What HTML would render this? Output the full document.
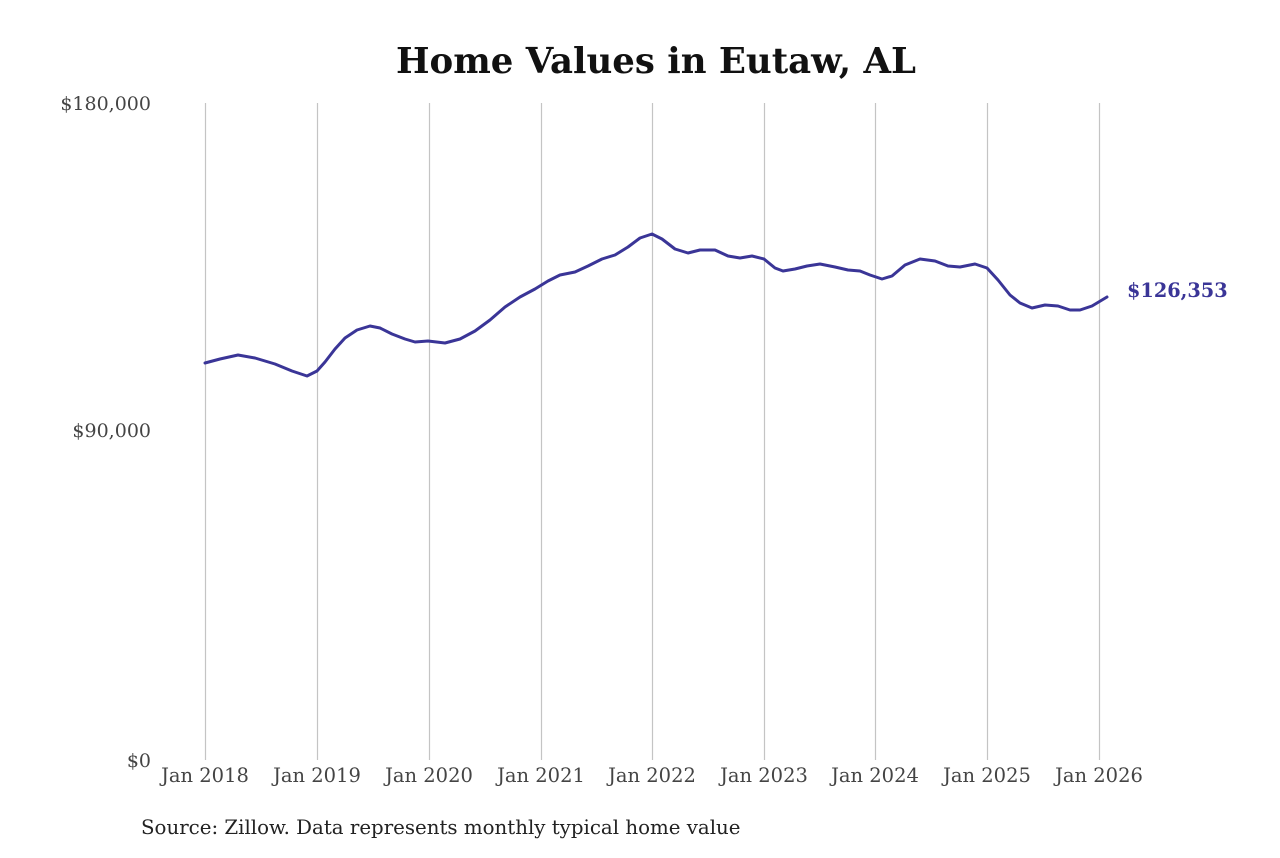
<!DOCTYPE html>
<html><head><meta charset="utf-8"><style>
html,body{margin:0;padding:0;background:#fff;}
</style></head><body>
<svg width="1280" height="853" viewBox="0 0 1280 853" xmlns="http://www.w3.org/2000/svg" font-family="'DejaVu Serif','Liberation Serif',serif">
<rect width="1280" height="853" fill="#fff"/>
<text x="656" y="73" text-anchor="middle" font-size="35.5" font-weight="bold" fill="#111">Home Values in Eutaw, AL</text>
<g stroke="#c4c4c4" stroke-width="1.2">
<line x1="205.5" y1="103" x2="205.5" y2="760"/>
<line x1="317.5" y1="103" x2="317.5" y2="760"/>
<line x1="429.5" y1="103" x2="429.5" y2="760"/>
<line x1="541.5" y1="103" x2="541.5" y2="760"/>
<line x1="652.5" y1="103" x2="652.5" y2="760"/>
<line x1="764.5" y1="103" x2="764.5" y2="760"/>
<line x1="875.5" y1="103" x2="875.5" y2="760"/>
<line x1="987.5" y1="103" x2="987.5" y2="760"/>
<line x1="1099.5" y1="103" x2="1099.5" y2="760"/>
</g>
<g font-size="19" fill="#444" text-anchor="end">
<text x="151" y="110">$180,000</text>
<text x="151" y="437">$90,000</text>
<text x="151" y="767">$0</text>
</g>
<g font-size="19.5" fill="#444" text-anchor="middle">
<text x="205" y="782">Jan 2018</text>
<text x="317" y="782">Jan 2019</text>
<text x="429" y="782">Jan 2020</text>
<text x="541" y="782">Jan 2021</text>
<text x="652" y="782">Jan 2022</text>
<text x="764" y="782">Jan 2023</text>
<text x="875" y="782">Jan 2024</text>
<text x="987" y="782">Jan 2025</text>
<text x="1099" y="782">Jan 2026</text>
</g>
<polyline fill="none" stroke="#3a3597" stroke-width="3" stroke-linejoin="round" stroke-linecap="round" points="205,363 220,359 238,355 255,358 275,364 292,371 307,376 317,371 325,362 335,349 345,338 357,330 370,326 380,328 392,334 405,339 415,342 428,341 445,343 460,339 475,331 490,320 505,307 520,297 535,289 548,281 560,275 575,272 588,266 602,259 615,255 628,247 640,238 652,234 662,239 675,249 688,253 700,250 715,250 728,256 740,258 752,256 764,259 775,268 783,271 795,269 807,266 820,264 835,267 848,270 860,271 870,275 882,279 892,276 905,265 920,259 935,261 948,266 960,267 975,264 987,268 998,280 1010,295 1020,303 1032,308 1045,305 1058,306 1070,310 1080,310 1092,306 1107,297"/>
<text x="1127" y="297" font-size="19.3" font-weight="bold" fill="#3a3597">$126,353</text>
<text x="141" y="834" font-size="19.8" fill="#222">Source: Zillow. Data represents monthly typical home value</text>
</svg>
</body></html>
